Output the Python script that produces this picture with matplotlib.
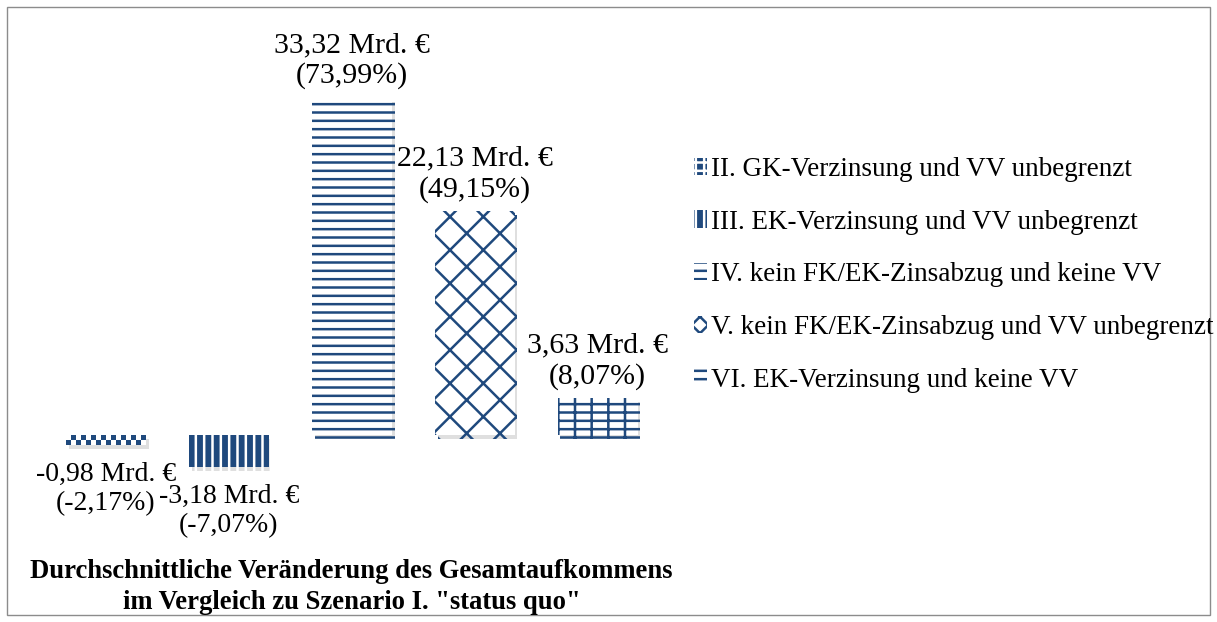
import numpy as np
import matplotlib.pyplot as plt
import matplotlib.patheffects as pe
from matplotlib.colors import ListedColormap
from matplotlib.patches import Rectangle

# Data
SCENARIOS = [
    "II. GK-Verzinsung und VV unbegrenzt",
    "III. EK-Verzinsung und VV unbegrenzt",
    "IV. kein FK/EK-Zinsabzug und keine VV",
    "V. kein FK/EK-Zinsabzug und VV unbegrenzt",
    "VI. EK-Verzinsung und keine VV",
]
CHANGE_BN = [-0.98, -3.18, 33.32, 22.13, 3.63]
CHANGE_PCT = ["-2,17%", "-7,07%", "73,99%", "49,15%", "8,07%"]
VALUE_LABELS = ["-0,98", "-3,18", "33,32", "22,13", "3,63"]

TITLE = 'Durchschnittliche Veränderung des Gesamtaufkommens\nim Vergleich zu Szenario I. "status quo"'

BLUE = '#1F497D'

plt.rcParams['font.family'] = ['Liberation Serif', 'DejaVu Serif']
plt.rcParams['hatch.linewidth'] = 1.8

fig = plt.figure(figsize=(12.17, 6.22), dpi=100)
ax = fig.add_axes([0.0366, 0.138, 0.505, 0.781])

# bar styles: (facecolor, edgecolor -> hatch colour, hatch)
styles = [
    ('white', BLUE, None),
    (BLUE, 'white', '||'),
    ('white', BLUE, '--'),
    ('white', BLUE, 'x'),
    ('white', BLUE, '+-'),
]

x = np.arange(len(CHANGE_BN))
shadow = [pe.SimplePatchShadow(offset=(2, -3), shadow_rgbFace='#808080', alpha=0.25), pe.Normal()]
bars = []
for i, (val, (fc, ec, h)) in enumerate(zip(CHANGE_BN, styles)):
    b = ax.bar(x[i], val, width=0.65, color=fc, edgecolor=ec, hatch=h,
               linewidth=0, zorder=2)[0]
    b.set_path_effects(shadow)
    bars.append(b)

# checkerboard texture for scenario II
b = bars[0]
checker = np.indices((2, 16)).sum(axis=0) % 2
ax.imshow(checker, cmap=ListedColormap(['white', BLUE]),
          extent=(b.get_x(), b.get_x() + b.get_width(), b.get_y() + b.get_height(), b.get_y()),
          aspect='auto', interpolation='nearest', zorder=3, clip_path=b)

ax.set_xlim(-0.5, len(CHANGE_BN) - 0.5)
ax.set_ylim(-10, 38)
ax.axis('off')

# data labels
for i, (val, lab, pct) in enumerate(zip(CHANGE_BN, VALUE_LABELS, CHANGE_PCT)):
    txt = f"{lab} Mrd. €\n({pct})"
    if val >= 0:
        ax.annotate(txt, xy=(x[i], val), xytext=(0, 6), textcoords='offset points',
                    ha='center', va='bottom', fontsize=21.5, linespacing=1.2)
    else:
        ax.annotate(txt, xy=(x[i], val), xytext=(0, -12), textcoords='offset points',
                    ha='center', va='top', fontsize=20, linespacing=1.25)

# legend proxies (no shadow)
legend_styles = [(BLUE, 'white', '++')] + styles[1:3] + [('white', BLUE, 'xx')] + styles[4:]
handles = [Rectangle((0, 0), 1, 1, facecolor=fc, edgecolor=ec, hatch=h, linewidth=0)
           for fc, ec, h in legend_styles]
leg = fig.legend(handles=handles, labels=SCENARIOS, loc='upper left',
                 bbox_to_anchor=(0.561, 0.765), frameon=False, fontsize=19.5,
                 handlelength=0.5, handleheight=0.6, handletextpad=0.15,
                 labelspacing=1.02, borderaxespad=0)

fig.text(0.289, 0.012, TITLE, ha='center', va='bottom', fontsize=19.2,
         fontweight='bold', linespacing=1.27)

# outer frame
fig.patches.append(Rectangle((0.006, 0.011), 0.988, 0.978, transform=fig.transFigure,
                             fill=False, edgecolor='#8c8c8c', linewidth=1))

fig.savefig('out.png', dpi=100)
